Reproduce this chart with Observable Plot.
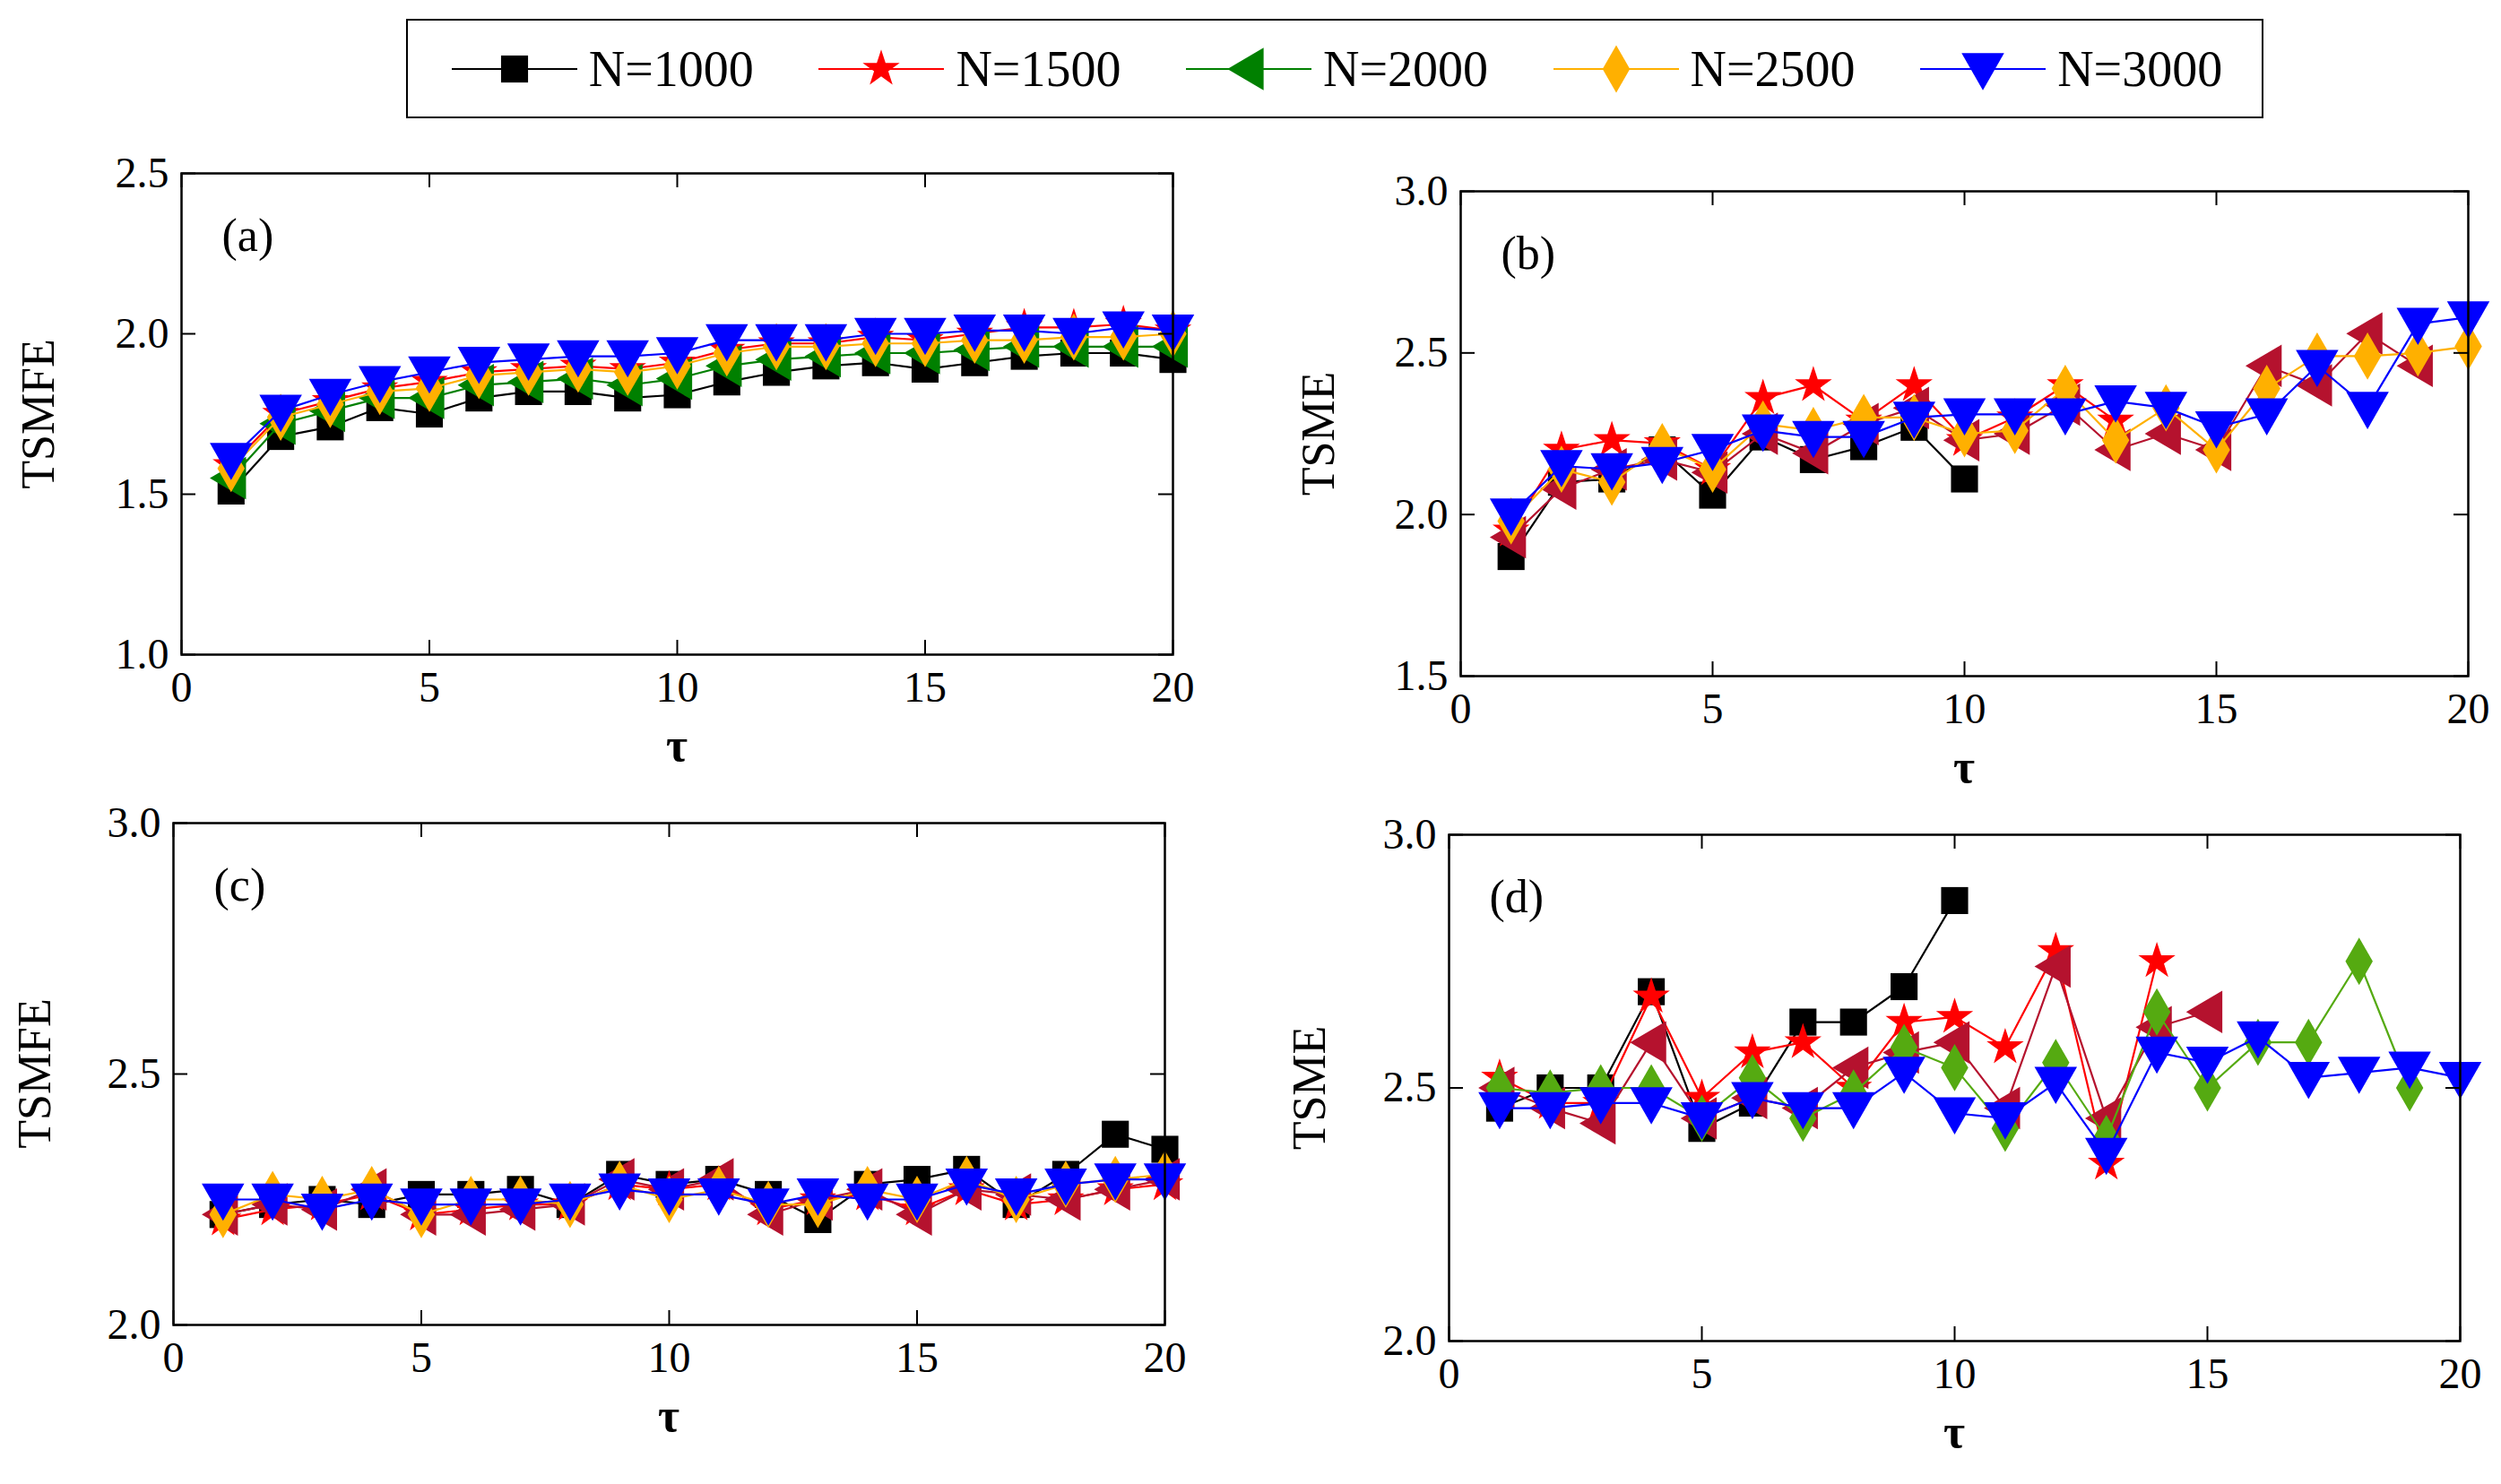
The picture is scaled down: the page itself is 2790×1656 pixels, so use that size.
<!DOCTYPE html>
<html><head><meta charset="utf-8">
<script src="https://cdn.jsdelivr.net/npm/d3@7"></script>
<script src="https://cdn.jsdelivr.net/npm/@observablehq/plot@0.6"></script>
<style>
body{margin:0;background:#fff;font-family:"Liberation Serif","Times New Roman","DejaVu Serif",serif;}
#root{position:relative;width:2790px;height:1656px;}
.abs{position:absolute;}
.ylab{position:absolute;font-size:52px;transform:translate(-50%,-50%) rotate(-90deg);white-space:nowrap;}
.xlab{position:absolute;font-size:52px;font-weight:bold;transform:translate(-50%,0);}
svg text{font-family:"Liberation Serif","Times New Roman","DejaVu Serif",serif;}
</style></head><body><div id="root"></div>
<script>
const tau = d3.range(1,21);
const xTicks = [0,5,10,15,20];
const legendLabels = ["N=1000","N=1500","N=2000","N=2500","N=3000"];
// panel (a) TSMFE
const a1000=[1.51,1.68,1.71,1.77,1.75,1.80,1.82,1.82,1.80,1.81,1.85,1.88,1.90,1.91,1.89,1.91,1.93,1.94,1.94,1.92];
const a1500=[1.59,1.75,1.79,1.83,1.85,1.88,1.89,1.90,1.89,1.91,1.95,1.97,1.97,1.99,1.98,2.00,2.02,2.02,2.03,2.01];
const a2000=[1.55,1.72,1.76,1.80,1.80,1.84,1.85,1.86,1.84,1.86,1.90,1.92,1.93,1.94,1.94,1.95,1.96,1.96,1.96,1.96];
const a2500=[1.58,1.74,1.78,1.82,1.83,1.87,1.88,1.89,1.88,1.90,1.94,1.96,1.96,1.97,1.97,1.98,1.98,1.99,1.99,2.00];
const a3000=[1.61,1.76,1.81,1.85,1.88,1.91,1.92,1.93,1.93,1.94,1.98,1.98,1.98,2.00,2.00,2.01,2.01,2.00,2.02,2.01];
const aTicks=[1.0,1.5,2.0,2.5];
// panel (b) TSME
const b1000=[1.87,2.10,2.11,2.20,2.06,2.24,2.17,2.21,2.27,2.11];
const b1500=[1.95,2.20,2.23,2.22,2.14,2.36,2.40,2.29,2.40,2.23,2.30,2.40,2.29];
const b2000=[1.93,2.08,2.14,2.17,2.13,2.25,2.19,2.28,2.33,2.23,2.25,2.34,2.20,2.25,2.20,2.46,2.40,2.56,2.46];
const b2500=[1.98,2.14,2.10,2.21,2.14,2.28,2.26,2.30,2.30,2.25,2.26,2.39,2.23,2.33,2.20,2.39,2.49,2.49,2.50,2.52];
const b3000=[2.00,2.15,2.14,2.16,2.20,2.26,2.24,2.24,2.30,2.31,2.31,2.31,2.35,2.33,2.27,2.31,2.46,2.33,2.59,2.61];
const bTicks=[1.5,2.0,2.5,3.0];
// panel (c) TSMFE
const c1000=[2.22,2.24,2.25,2.24,2.26,2.26,2.27,2.24,2.30,2.28,2.29,2.26,2.21,2.28,2.29,2.31,2.24,2.30,2.38,2.35];
const c1500=[2.21,2.23,2.24,2.26,2.22,2.23,2.24,2.24,2.28,2.27,2.28,2.23,2.25,2.26,2.23,2.27,2.24,2.25,2.27,2.28];
const c2000=[2.22,2.24,2.23,2.27,2.22,2.22,2.23,2.24,2.29,2.27,2.29,2.22,2.25,2.27,2.22,2.27,2.26,2.25,2.27,2.29];
const c2500=[2.22,2.26,2.25,2.27,2.22,2.25,2.25,2.24,2.28,2.25,2.27,2.24,2.24,2.27,2.25,2.29,2.25,2.28,2.29,2.30];
const c3000=[2.25,2.25,2.23,2.25,2.24,2.24,2.24,2.25,2.27,2.26,2.26,2.24,2.26,2.25,2.25,2.28,2.26,2.28,2.29,2.29];
const cTicks=[2.0,2.5,3.0];
// panel (d) TSME
const d1000=[2.46,2.50,2.50,2.69,2.42,2.47,2.63,2.63,2.70,2.87];
const d1500=[2.52,2.47,2.47,2.68,2.48,2.57,2.59,2.50,2.63,2.64,2.58,2.77,2.35,2.75];
const d2000=[2.50,2.46,2.43,2.59,2.44,2.48,2.46,2.54,2.57,2.59,2.46,2.74,2.44,2.62,2.65];
const d2500=[2.50,2.49,2.50,2.50,2.44,2.52,2.44,2.49,2.58,2.54,2.42,2.55,2.40,2.65,2.50,2.59,2.59,2.75,2.50];
const d3000=[2.46,2.46,2.47,2.47,2.44,2.48,2.46,2.46,2.53,2.45,2.44,2.51,2.37,2.57,2.55,2.60,2.52,2.53,2.54,2.52];
const dTicks=[2.0,2.5,3.0];

const FONT='"Liberation Serif","Times New Roman","DejaVu Serif",serif';
const triDown={draw(c,s){const r=Math.sqrt(s/Math.PI)*1.25;c.moveTo(-r,-0.75*r);c.lineTo(r,-0.75*r);c.lineTo(0,r);c.closePath();}};
const triLeft={draw(c,s){const r=Math.sqrt(s/Math.PI)*1.25;c.moveTo(-r,0);c.lineTo(0.7*r,-r);c.lineTo(0.7*r,r);c.closePath();}};
const sym=["square","star",triLeft,"diamond",triDown];
const root=document.getElementById("root");

function panel(o){
  const W=o.x1-o.x0,H=o.y1-o.y0;
  const mt=45,mb=90,ml=140,mr=40;
  const marks=[];
  o.series.forEach((vals,i)=>{
    const data=vals.map((v,k)=>({t:tau[k],v}));
    marks.push(Plot.line(data,{x:"t",y:"v",stroke:o.colors[i],strokeWidth:2.2}));
    marks.push(Plot.dot(data,{x:"t",y:"v",fill:o.colors[i],stroke:"none",symbol:()=>sym[i],r:o.r[i]}));
  });
  marks.push(Plot.tickX(xTicks,{x:d=>d,insetTop:H-16,stroke:"#000",strokeWidth:2}));
  marks.push(Plot.tickX(xTicks,{x:d=>d,insetBottom:H-16,stroke:"#000",strokeWidth:2}));
  marks.push(Plot.tickY(o.yt,{y:d=>d,insetRight:W-16,stroke:"#000",strokeWidth:2}));
  marks.push(Plot.tickY(o.yt,{y:d=>d,insetLeft:W-16,stroke:"#000",strokeWidth:2}));
  marks.push(Plot.frame({stroke:"#000",strokeWidth:2.5}));
  marks.push(Plot.text([o.tag],{text:d=>d,frameAnchor:"top-left",dx:45,dy:50,fontSize:52,fill:"#000",fontFamily:FONT}));
  const svg=Plot.plot({
    width:W+ml+mr,height:H+mt+mb,marginLeft:ml,marginRight:mr,marginTop:mt,marginBottom:mb,
    style:{fontFamily:FONT,fontSize:"48px",color:"#000",background:"transparent"},
    x:{domain:[0,20],ticks:xTicks,tickSize:0,tickPadding:18,label:null},
    y:{domain:o.ydom,ticks:o.yt,tickSize:0,tickPadding:14,tickFormat:d3.format(".1f"),label:null},
    marks
  });
  svg.style.position="absolute";svg.style.left=(o.x0-ml)+"px";svg.style.top=(o.y0-mt)+"px";
  root.appendChild(svg);
  const yl=document.createElement("div");yl.className="ylab";yl.textContent=o.ylab;
  yl.style.left=o.ylx+"px";yl.style.top=((o.y0+o.y1)/2)+"px";root.appendChild(yl);
  const xl=document.createElement("div");xl.className="xlab";xl.textContent="τ";
  xl.style.left=((o.x0+o.x1)/2)+"px";xl.style.top=(o.y1+72)+"px";root.appendChild(xl);
}
const R=[17,13,19,16,19];
panel({x0:202,x1:1308,y0:193,y1:730,ydom:[1,2.5],yt:aTicks,series:[a1000,a1500,a2000,a2500,a3000],
  colors:["#000","#ff0000","#008000","#ffb000","#0000ff"],tag:"(a)",ylab:"TSMFE",ylx:42,r:R});
panel({x0:1629,x1:2753,y0:213,y1:754,ydom:[1.5,3],yt:bTicks,series:[b1000,b1500,b2000,b2500,b3000],
  colors:["#000","#ff0000","#b5122e","#ffb000","#0000ff"],tag:"(b)",ylab:"TSME",ylx:1470,r:R});
panel({x0:193,x1:1299,y0:918,y1:1478,ydom:[2,3],yt:cTicks,series:[c1000,c1500,c2000,c2500,c3000],
  colors:["#000","#ff0000","#b5122e","#ffb000","#0000ff"],tag:"(c)",ylab:"TSMFE",ylx:38,r:R});
panel({x0:1616,x1:2744,y0:931,y1:1496,ydom:[2,3],yt:dTicks,series:[d1000,d1500,d2000,d2500,d3000],
  colors:["#000","#ff0000","#b5122e","#55aa11","#0000ff"],tag:"(d)",ylab:"TSME",ylx:1460,r:R});

// legend
const lc=["#000","#ff0000","#008000","#ffb000","#0000ff"];
const leg=document.createElement("div");leg.className="abs";
Object.assign(leg.style,{left:"453px",top:"21px",width:"2072px",height:"111px",border:"2.5px solid #000",display:"flex",alignItems:"center",justifyContent:"space-around",fontSize:"56px",boxSizing:"border-box",padding:"0 10px"});
legendLabels.forEach((lab,i)=>{
  const it=document.createElement("div");it.style.display="flex";it.style.alignItems="center";
  const s=d3.create("svg").attr("width",150).attr("height",60);
  s.append("line").attr("x1",5).attr("x2",145).attr("y1",30).attr("y2",30).attr("stroke",lc[i]).attr("stroke-width",2.2);
  const st=typeof sym[i]==="string"?{square:d3.symbolSquare,star:d3.symbolStar,diamond:d3.symbolDiamond}[sym[i]]:sym[i];
  s.append("path").attr("transform","translate(75,30)").attr("d",d3.symbol(st,Math.PI*R[i]*R[i])).attr("fill",lc[i]);
  it.appendChild(s.node());
  const t=document.createElement("span");t.textContent=lab;t.style.marginLeft="8px";it.appendChild(t);
  leg.appendChild(it);
});
root.appendChild(leg);
</script></body></html>
